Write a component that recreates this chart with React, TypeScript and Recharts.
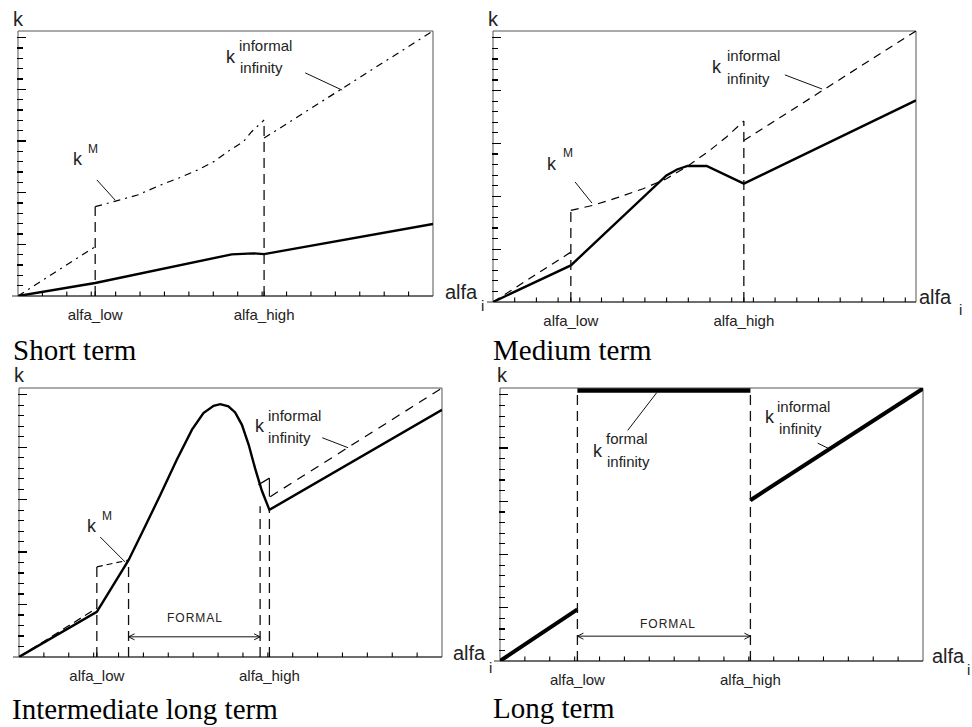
import { LineChart, Line, XAxis, YAxis, ReferenceLine, ReferenceArea } from "recharts";

type Pt = { x: number; y: number };
type Rect = { left: number; top: number; width: number; height: number };

// x and y run 0..100 inside each plot box

// Short term
const shortTicks = [18.6, 59.3];
const shortK: Pt[] = [
  { x: 0, y: 0 }, { x: 18.6, y: 4.9 }, { x: 51.5, y: 15.7 }, { x: 56.7, y: 16.1 },
  { x: 59.3, y: 15.8 }, { x: 100, y: 27.2 },
];
const shortInfLow: Pt[] = [{ x: 0, y: 0 }, { x: 18.6, y: 18.6 }];
const shortInfHigh: Pt[] = [{ x: 59.3, y: 59.6 }, { x: 100, y: 100 }];
const shortKM: Pt[] = [
  { x: 18.6, y: 33.7 }, { x: 24.4, y: 36.2 }, { x: 28.8, y: 38.1 }, { x: 34.4, y: 41.9 },
  { x: 39.2, y: 44.8 }, { x: 43.2, y: 47.5 }, { x: 47.2, y: 50.7 }, { x: 51.1, y: 55.1 },
  { x: 54.3, y: 58.2 }, { x: 56.3, y: 62.0 }, { x: 59.3, y: 66.4 },
];

// Medium term
const mediumTicks = [18.4, 59.3];
const mediumK: Pt[] = [
  { x: 0, y: 0 }, { x: 18.4, y: 13.5 }, { x: 41.0, y: 46.7 }, { x: 43.5, y: 48.9 },
  { x: 46.0, y: 50.2 }, { x: 50.5, y: 50.2 }, { x: 59.3, y: 43.7 }, { x: 100, y: 74.4 },
];
const mediumInfLow: Pt[] = [{ x: 0, y: 0 }, { x: 18.4, y: 18.4 }];
const mediumInfHigh: Pt[] = [{ x: 59.3, y: 59.6 }, { x: 100, y: 100 }];
const mediumKM: Pt[] = [
  { x: 18.4, y: 33.8 }, { x: 23.7, y: 35.7 }, { x: 29.2, y: 38.4 }, { x: 35.5, y: 41.8 },
  { x: 41.0, y: 45.5 }, { x: 45.7, y: 49.8 }, { x: 51.3, y: 56.0 }, { x: 55.2, y: 60.9 },
  { x: 59.3, y: 66.8 },
];

// Intermediate long term
const interTicks = [18.4, 59.2];
const interFormal = [25.9, 57.0];
const interK: Pt[] = [
  { x: 0, y: 0 }, { x: 18.4, y: 16.8 }, { x: 25.9, y: 36.0 }, { x: 29.4, y: 47.2 },
  { x: 33.4, y: 60.2 }, { x: 37.3, y: 73.3 }, { x: 40.9, y: 84.5 }, { x: 43.6, y: 90.7 },
  { x: 46.0, y: 93.4 }, { x: 47.6, y: 94.0 }, { x: 49.5, y: 93.2 }, { x: 51.1, y: 90.9 },
  { x: 52.7, y: 86.3 }, { x: 54.3, y: 78.9 }, { x: 55.8, y: 70.2 }, { x: 57.4, y: 61.9 },
  { x: 59.2, y: 54.7 }, { x: 100, y: 91.9 },
];
const interInfLow: Pt[] = [{ x: 0, y: 0 }, { x: 18.4, y: 18.2 }];
const interInfHigh: Pt[] = [{ x: 59.4, y: 59.6 }, { x: 100, y: 100 }];
const interKMLow: Pt[] = [{ x: 18.4, y: 33.5 }, { x: 21.0, y: 34.4 }, { x: 25.9, y: 36.0 }];
const interKMHigh: Pt[] = [{ x: 56.6, y: 64.0 }, { x: 59.2, y: 66.5 }];

// Long term
const longTicks = [18.3, 59.2];
const longKLow: Pt[] = [{ x: 0, y: 0 }, { x: 18.3, y: 18.9 }];
const longKHigh: Pt[] = [{ x: 59.2, y: 58.9 }, { x: 100, y: 99.8 }];
const longFormal: Pt[] = [{ x: 18.3, y: 99.1 }, { x: 59.2, y: 99.1 }];

const tickNames = ["alfa_low", "alfa_high"];

const shortRect: Rect = { left: 18, top: 31, width: 415, height: 265 };
const mediumRect: Rect = { left: 493, top: 31, width: 423, height: 271 };
const interRect: Rect = { left: 19, top: 388, width: 423, height: 269 };
const longRect: Rect = { left: 500, top: 388, width: 423, height: 273 };

const PAD = 12;
const BOTTOM = 40;
const SANS = '"Liberation Sans", Arial, sans-serif';
const SERIF = '"Liberation Serif", "Times New Roman", serif';
const VDASH = "10 6";
const Y_STEP = 3.9;

function seg(key: string, a: Pt, b: Pt, stroke = "#111", width = 1, dash?: string) {
  return (
    <ReferenceLine
      key={key}
      segment={[a, b]}
      ifOverflow="visible"
      stroke={stroke}
      strokeWidth={width}
      strokeDasharray={dash}
    />
  );
}

function frame(id: string, r: Rect) {
  const ux = r.width / 100;
  const els = [
    <ReferenceArea key={id + "box"} x1={0} x2={100} y1={0} y2={100} fill="none" stroke="#555" strokeWidth={1} ifOverflow="visible" />,
    seg(id + "axis", { x: -6 / ux, y: 0 }, { x: 100, y: 0 }, "#333", 1.2),
  ];
  // left-edge ticks, every fifth one longer
  for (let i = 1; i * Y_STEP < 100; i++) {
    const len = (i % 5 === 0 ? 8 : 5) / ux;
    els.push(
      <ReferenceLine
        key={id + "yt" + i}
        segment={[{ x: -0.2, y: i * Y_STEP }, { x: len, y: i * Y_STEP }]}
        ifOverflow="visible"
        stroke="#000"
        strokeWidth={1.2}
        shapeRendering="crispEdges"
      />
    );
  }
  return els;
}

function doubleArrow(id: string, r: Rect, x1: number, x2: number, y: number) {
  const ax = 6 / (r.width / 100);
  const ay = 3 / (r.height / 100);
  return [
    seg(id + "a0", { x: x1, y }, { x: x2, y }),
    seg(id + "a1", { x: x1, y }, { x: x1 + ax, y: y + ay }),
    seg(id + "a2", { x: x1, y }, { x: x1 + ax, y: y - ay }),
    seg(id + "a3", { x: x2, y }, { x: x2 - ax, y: y + ay }),
    seg(id + "a4", { x: x2, y }, { x: x2 - ax, y: y - ay }),
  ];
}

function curve(data: Pt[], width: number, dash?: string) {
  return (
    <Line
      data={data}
      dataKey="y"
      type="linear"
      stroke="#000"
      strokeWidth={width}
      strokeDasharray={dash}
      dot={false}
      activeDot={false}
      isAnimationActive={false}
    />
  );
}

function axes(r: Rect, named: number[], xStep: number) {
  const minor: number[] = [];
  for (let i = 1; i * xStep < 99; i++) minor.push(+(i * xStep).toFixed(2));
  const all = [...minor, ...named].sort((a, b) => a - b);
  const axisY = PAD + r.height;
  const xTick = (p: any) => {
    const idx = named.indexOf(p.payload.value);
    const mark = <line x1={p.x} x2={p.x} y1={axisY} y2={axisY - 4.5} stroke="#000" strokeWidth={1.1} />;
    if (idx < 0) return mark;
    return (
      <g>
        {mark}
        <text x={p.x} y={axisY + 13} dy="0.71em" textAnchor="middle" fontSize={15} fontFamily={SANS} fill="#222">
          {tickNames[idx]}
        </text>
      </g>
    );
  };
  return [
    <XAxis
      key="x"
      dataKey="x"
      type="number"
      domain={[0, 100]}
      allowDataOverflow
      ticks={all}
      interval={0}
      axisLine={false}
      tickLine={false}
      tickSize={0}
      tickMargin={13}
      height={BOTTOM}
      tick={xTick}
    />,
    <YAxis key="y" type="number" domain={[0, 100]} allowDataOverflow hide />,
  ];
}

function box(r: Rect): React.CSSProperties {
  return { position: "absolute", left: r.left - PAD, top: r.top - PAD };
}

const chartMargin = { top: PAD, right: PAD, bottom: 0, left: PAD };

type Txt = { t: string; x: number; y: number; s: number; f?: string; ls?: number };
const texts: Txt[] = [
  { t: "k", x: 13, y: 26, s: 20 }, { t: "alfa", x: 445, y: 299, s: 20 }, { t: "i", x: 481, y: 311, s: 15 },
  { t: "k", x: 488, y: 26, s: 20 }, { t: "alfa", x: 919, y: 304, s: 20 }, { t: "i", x: 959, y: 315, s: 15 },
  { t: "k", x: 14, y: 382, s: 20 }, { t: "alfa", x: 453, y: 660, s: 20 }, { t: "i", x: 489, y: 673, s: 15 },
  { t: "k", x: 497, y: 382, s: 20 }, { t: "alfa", x: 932, y: 663, s: 20 }, { t: "i", x: 967, y: 675, s: 15 },
  { t: "k", x: 226, y: 63, s: 18 }, { t: "informal", x: 239, y: 51, s: 15 }, { t: "infinity", x: 240, y: 73, s: 15 },
  { t: "k", x: 73, y: 165, s: 18 }, { t: "M", x: 88, y: 153, s: 12 },
  { t: "k", x: 712, y: 73, s: 18 }, { t: "informal", x: 727, y: 61, s: 15 }, { t: "infinity", x: 727, y: 84, s: 15 },
  { t: "k", x: 547, y: 170, s: 18 }, { t: "M", x: 563, y: 157, s: 12 },
  { t: "k", x: 255, y: 432, s: 18 }, { t: "informal", x: 268, y: 421, s: 15 }, { t: "infinity", x: 268, y: 443, s: 15 },
  { t: "k", x: 87, y: 532, s: 18 }, { t: "M", x: 102, y: 520, s: 12 },
  { t: "k", x: 593, y: 457, s: 18 }, { t: "formal", x: 606, y: 444, s: 15 }, { t: "infinity", x: 607, y: 467, s: 15 },
  { t: "k", x: 765, y: 423, s: 18 }, { t: "informal", x: 777, y: 412, s: 15 }, { t: "infinity", x: 779, y: 434, s: 15 },
  { t: "FORMAL", x: 167, y: 622, s: 12, ls: 1 }, { t: "FORMAL", x: 640, y: 628, s: 12, ls: 1 },
  { t: "Short term", x: 13, y: 360, s: 29, f: SERIF },
  { t: "Medium term", x: 493, y: 360, s: 29, f: SERIF },
  { t: "Intermediate long term", x: 12, y: 719, s: 29, f: SERIF },
  { t: "Long term", x: 493, y: 718, s: 29, f: SERIF },
];

export default function App() {
  const size = (r: Rect) => ({ width: r.width + 2 * PAD, height: r.height + PAD + BOTTOM });
  return (
    <div style={{ position: "absolute", left: 0, top: 0, width: 972, height: 727, background: "#fff", overflow: "hidden" }}>
      <div style={box(shortRect)}>
        <LineChart {...size(shortRect)} margin={chartMargin}>
          {axes(shortRect, shortTicks, 100 / 17)}
          {frame("s", shortRect)}
          {curve(shortInfLow, 1.2, "7 5 2 5")}
          {curve(shortInfHigh, 1.2, "7 5 2 5")}
          {curve(shortKM, 1.2, "7 5 2 5")}
          {curve(shortK, 2.4)}
          {seg("sv1", { x: shortTicks[0], y: 0 }, { x: shortTicks[0], y: 33.7 }, "#111", 1.3, VDASH)}
          {seg("sv2", { x: shortTicks[1], y: 0 }, { x: shortTicks[1], y: 66.4 }, "#111", 1.3, VDASH)}
          {seg("sl1", { x: 69.2, y: 84.2 }, { x: 78.1, y: 77.7 })}
          {seg("sl2", { x: 19.0, y: 43.8 }, { x: 23.4, y: 36.2 })}
        </LineChart>
      </div>
      <div style={box(mediumRect)}>
        <LineChart {...size(mediumRect)} margin={chartMargin}>
          {axes(mediumRect, mediumTicks, 5.13)}
          {frame("m", mediumRect)}
          {curve(mediumInfLow, 1.2, "8 6")}
          {curve(mediumInfHigh, 1.2, "8 6")}
          {curve(mediumKM, 1.2, "8 6")}
          {curve(mediumK, 2.4)}
          {seg("mv1", { x: mediumTicks[0], y: 0 }, { x: mediumTicks[0], y: 33.8 }, "#111", 1.3, VDASH)}
          {seg("mv2", { x: mediumTicks[1], y: 0 }, { x: mediumTicks[1], y: 66.8 }, "#111", 1.3, VDASH)}
          {seg("ml1", { x: 69.0, y: 83.8 }, { x: 77.8, y: 78.6 })}
          {seg("ml2", { x: 19.4, y: 44.3 }, { x: 23.4, y: 36.5 })}
        </LineChart>
      </div>
      <div style={box(interRect)}>
        <LineChart {...size(interRect)} margin={chartMargin}>
          {axes(interRect, interTicks, 100 / 17)}
          {frame("i", interRect)}
          {curve(interInfLow, 1.2, "8 5")}
          {curve(interInfHigh, 1.2, "9 7")}
          {curve(interKMLow, 1.2, "6 4")}
          {curve(interKMHigh, 1.2)}
          {curve(interK, 2.4)}
          {seg("iv1", { x: interTicks[0], y: 0 }, { x: interTicks[0], y: 33.5 }, "#111", 1.3, VDASH)}
          {seg("iv2", { x: interFormal[0], y: 0 }, { x: interFormal[0], y: 36.0 }, "#111", 1.3, VDASH)}
          {seg("iv3", { x: interFormal[1], y: 0 }, { x: interFormal[1], y: 56.0 }, "#111", 1.3, VDASH)}
          {seg("iv4", { x: interTicks[1], y: 0 }, { x: interTicks[1], y: 54.7 }, "#111", 1.3, VDASH)}
          {seg("iv5", { x: interTicks[1], y: 59.6 }, { x: interTicks[1], y: 66.5 }, "#111", 1.2)}
          {seg("il1", { x: 71.7, y: 81.5 }, { x: 77.8, y: 77.8 })}
          {seg("il2", { x: 19.2, y: 44.6 }, { x: 25.1, y: 35.3 })}
          {doubleArrow("i", interRect, interFormal[0], interFormal[1], 7.5)}
        </LineChart>
      </div>
      <div style={box(longRect)}>
        <LineChart {...size(longRect)} margin={chartMargin}>
          {axes(longRect, longTicks, 100 / 17)}
          {frame("l", longRect)}
          {curve(longKLow, 4)}
          {curve(longKHigh, 4)}
          {curve(longFormal, 4.5)}
          {seg("lv1", { x: longTicks[0], y: 0 }, { x: longTicks[0], y: 99.1 }, "#111", 1.3, VDASH)}
          {seg("lv2", { x: longTicks[1], y: 0 }, { x: longTicks[1], y: 99.1 }, "#111", 1.3, VDASH)}
          {seg("ll1", { x: 37.1, y: 98.4 }, { x: 30.2, y: 84.5 })}
          {seg("ll2", { x: 75.1, y: 79.8 }, { x: 78.0, y: 77.6 })}
          {doubleArrow("l", longRect, longTicks[0], longTicks[1], 9.1)}
        </LineChart>
      </div>
      <svg width={972} height={727} style={{ position: "absolute", left: 0, top: 0, pointerEvents: "none" }}>
        {texts.map((d, i) => (
          <text
            key={i}
            x={d.x}
            y={d.y}
            fontSize={d.s}
            fontFamily={d.f ?? SANS}
            letterSpacing={d.ls}
            fill={d.f ? "#000" : "#222"}
          >
            {d.t}
          </text>
        ))}
      </svg>
    </div>
  );
}
